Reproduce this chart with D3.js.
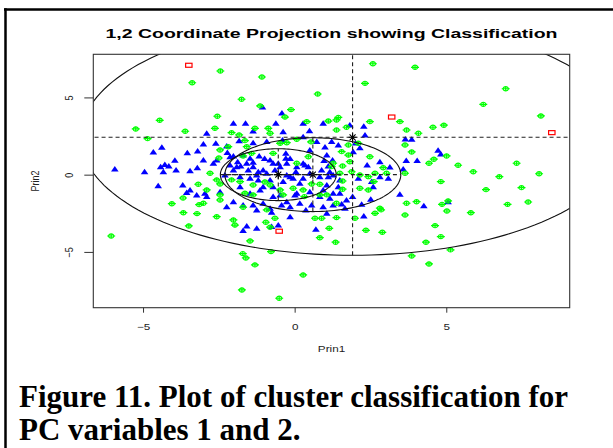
<!DOCTYPE html>
<html>
<head>
<meta charset="utf-8">
<script src="https://cdn.jsdelivr.net/npm/d3@7"></script>
<style>
  body { margin: 0; background: #fff; }
  svg { display: block; }
</style>
</head>
<body>
<svg id="chart" width="613" height="448"></svg>
<script>
// Principal-component scores (Prin1, Prin2) per cluster
const cluster1 = [ // blue triangles
  [-1.06,4.38],[-0.42,3.99],[-4.38,1.77],[-4.66,1.47],[-3.54,1.42],[-3.20,1.53],[-3.95,0.93],[-4.28,0.65],
  [-4.15,0.56],[-4.42,0.52],[-3.91,0.30],[-5.93,0.37],[-4.95,0.19],[-3.45,0.26],[-3.21,0.45],[4.73,1.58],
  [4.82,1.34],[4.26,-2.01],[5.06,-1.75],[-4.33,0.19],[-4.50,-0.71],[-3.69,-0.67],[-3.45,-0.99],[-3.56,-1.16],
  [-3.23,-1.31],[-1.70,-3.62],[-2.02,3.33],[-1.62,3.33],[-0.62,3.33],[-2.90,2.68],[-1.37,2.83],[-0.38,2.78],
  [-3.01,1.99],[-2.60,2.03],[-2.24,1.86],[-1.83,2.20],[-1.37,2.07],[-0.92,2.14],[-0.40,2.25],[-3.01,0.95],
  [-2.57,0.95],[-2.02,1.21],[-1.70,1.27],[-1.47,1.06],[-1.17,1.21],[-0.81,0.95],[-0.29,1.38],[-0.29,1.06],
  [-2.68,0.74],[-2.13,0.63],[-1.91,0.52],[-1.58,0.74],[-1.37,0.52],[-1.04,0.30],[-0.71,0.74],[-0.48,0.52],
  [-0.26,0.74],[-2.30,-0.02],[-1.80,-0.13],[-1.47,-0.23],[-1.25,-0.02],[-0.92,0.09],[-0.81,-0.34],[-0.26,-0.02],
  [-0.38,-0.45],[-2.90,-1.42],[-2.46,-1.10],[-1.80,-0.78],[-1.47,-1.20],[-1.14,-0.99],[-0.71,-0.78],[-0.48,-1.31],
  [-2.96,-1.20],[-2.02,-1.75],[-1.70,-1.96],[-1.37,-1.96],[-1.04,-1.85],[-0.81,-2.17],[-0.43,-1.96],[-1.58,-3.32],
  [-1.25,-3.47],[-0.76,-3.36],[-0.15,-2.72],[0.28,3.33],[0.94,3.33],[1.82,3.22],[2.32,2.57],[0.28,2.46],
  [0.73,2.14],[1.22,2.14],[1.44,1.92],[1.06,1.27],[1.93,1.49],[2.39,0.63],[2.81,0.84],[0.07,0.52],
  [0.34,0.63],[0.89,0.30],[0.50,0.09],[-0.05,-0.23],[1.27,-0.02],[1.49,-0.34],[0.17,-0.56],[1.06,-0.67],
  [1.44,-0.78],[2.10,-0.23],[2.54,-0.45],[2.81,-0.13],[3.09,-0.23],[0.07,-1.20],[0.50,-1.10],[0.83,-1.42],
  [1.16,-1.53],[1.49,-1.20],[1.71,-1.64],[2.59,-0.78],[0.94,-2.07],[1.27,-1.96],[1.66,-2.17],[0.17,-1.85],
  [0.56,-1.96],[3.65,2.31],[3.86,2.29],[3.68,0.91],[4.04,0.91],[3.14,0.50],[3.58,0.37],[2.15,1.75],
  [3.47,-1.27],[2.28,-2.67],[2.51,-1.59],[2.21,-1.92],[1.06,-2.50],[0.70,-3.53],[0.49,2.85],[0.50,1.60],
  [1.00,1.79],[1.25,0.95],[-2.02,0.30],[-1.53,0.30],[-0.65,0.30],[-1.04,-0.78],[-0.71,-1.42],[-2.24,-2.07],
  [-1.25,-2.28],[-0.76,-2.43],[-0.26,-1.75],[-0.54,-3.26],[2.28,3.13],[2.01,2.05],[1.91,-1.42],[1.55,-1.90],
  [-2.22,1.44],[-2.13,1.16],[-1.88,0.84],[-1.78,0.56],[-0.99,1.04],[-1.37,0.80],[-0.54,0.74],[-0.15,1.04],
  [0.28,0.74],[0.45,0.52],[0.97,0.91],[1.11,0.56],[-1.20,0.19],[0.04,0.19],[1.16,0.19],[-1.20,-0.34],
  [-0.15,-0.13],[0.28,-0.23],[0.83,-0.13],[1.11,-0.13],[0.01,-1.31],[0.94,-0.99],[1.27,-1.20],[-0.15,-2.07],
  [0.37,-2.28]
];

const cluster2 = [ // green circled crosses
  [-2.45,6.71],[-1.08,6.32],[-3.38,5.95],[0.76,5.22],[-1.75,4.88],[-0.12,4.21],[-1.14,4.45],[-2.55,3.78],
  [-0.32,3.73],[-4.45,3.52],[1.44,3.71],[1.38,3.54],[-5.24,2.96],[-3.61,2.81],[-4.85,2.33],[2.58,7.18],
  [3.97,6.95],[2.32,5.91],[6.96,5.56],[6.22,4.55],[8.12,3.80],[4.56,3.07],[4.92,3.20],[5.01,1.21],
  [4.59,1.00],[4.43,0.74],[5.39,0.61],[5.89,0.19],[7.32,0.74],[8.06,0.06],[6.75,-0.13],[4.82,-0.45],
  [6.31,-0.97],[7.48,-0.84],[4.86,-1.92],[5.06,-1.70],[7.02,-1.92],[7.70,-1.77],[5.02,-2.35],[5.81,-2.46],
  [2.35,-3.60],[2.89,-3.73],[4.63,-3.30],[4.82,-4.01],[4.33,-4.37],[5.14,-4.87],[3.86,-5.26],[4.43,-5.78],
  [-3.18,-0.62],[-4.05,-1.88],[-3.68,-1.51],[-3.15,-1.94],[-3.67,-2.46],[-3.22,-2.52],[-3.49,-3.32],[-6.05,-3.97],
  [-1.47,-4.29],[-0.78,-4.98],[-1.71,-5.11],[-1.61,-5.39],[-1.31,-5.84],[0.28,-6.49],[-1.74,-7.46],[-0.51,-8.00],
  [0.83,-4.08],[1.35,-4.37],[-2.63,3.00],[-2.08,2.72],[-1.83,2.57],[-1.64,2.20],[-1.31,3.00],[-0.87,3.00],
  [-0.81,2.68],[-0.48,2.03],[-0.26,2.07],[-2.46,1.60],[-2.19,1.81],[-1.58,1.81],[-1.42,1.38],[-0.71,1.38],
  [-2.79,0.09],[-2.57,-0.34],[-1.80,-0.45],[-1.37,-0.67],[-0.48,-0.99],[-0.38,-1.31],[-2.90,-0.99],[-2.46,-1.31],
  [-2.46,-1.64],[-1.64,-1.20],[-1.37,-1.31],[-0.92,-2.28],[-0.65,-2.82],[-2.02,-2.93],[-1.97,-3.26],[-2.57,-2.72],
  [-3.01,-1.85],[-2.50,1.08],[-1.70,1.21],[-0.95,-3.08],[-0.81,-3.40],[-1.70,-2.11],[-2.08,-0.34],[-2.46,-0.60],
  [-0.98,-0.47],[-0.81,-0.67],[0.40,3.43],[1.11,3.47],[2.48,3.43],[3.47,3.43],[3.69,2.89],[4.08,2.68],
  [1.38,2.89],[3.64,1.92],[1.77,1.92],[2.10,2.03],[1.55,1.49],[1.77,1.27],[1.82,0.84],[1.27,0.74],
  [0.07,0.74],[0.45,1.16],[2.48,1.16],[2.15,-0.02],[2.43,-0.13],[2.65,0.09],[3.03,0.09],[3.64,0.09],
  [1.49,0.09],[-0.05,-0.88],[0.28,-0.99],[2.15,-0.88],[2.43,-0.99],[1.88,0.19],[0.83,-1.31],[1.06,-1.31],
  [3.69,-1.85],[4.02,-1.75],[0.67,-2.82],[0.89,-2.82],[1.99,-2.82],[2.81,-2.17],[2.65,-2.50],[3.64,-2.61],
  [1.71,3.07],[3.86,1.47],[2.92,0.45],[1.58,0.56],[1.58,-0.41],[1.58,-0.94],[2.61,-0.45],[2.85,-2.28],
  [0.56,-0.60],[0.83,-0.62],[1.38,-1.85],[1.38,-2.78],[1.14,-3.47],[0.32,-1.42],[0.54,2.12],[0.07,2.29],
  [1.22,0.52]
];

const cluster3 = [ // red open squares
  [-3.49,7.08],[3.20,3.73],[8.48,2.72],[-0.51,-3.66]
];

// Fitted component ellipses: centre, semi-axis along Prin1, semi-axis along Prin2
const ellipseCenters = [[1.91, 2.42], [0.60, 0.00], [-0.54, 0.00]];
const ellipseAxes = [[8.97, 7.64], [2.90, 2.39], [1.91, 1.68]];

const xTicks = [-5, 0, 5];
const yTicks = [-5, 0, 5];
const xDomain = [-6.64, 9.07];
const yDomain = [-8.61, 7.79];

const titleText = "1,2 Coordinate Projection showing Classification";
const xLabel = "Prin1";
const yLabel = "Prin2";
const captionLines = ["Figure 11. Plot of cluster classification for", "PC variables 1 and 2."];

// ---------------------------------------------------------------
const svg = d3.select("#chart");
const box = { left: 93.3, right: 569.7, top: 54.3, bottom: 307.7 };
const stretch = 1.3; // glyphs of the plot panel are drawn wide

const x = d3.scaleLinear().domain(xDomain).range([box.left, box.right]);
const y = d3.scaleLinear().domain(yDomain).range([box.bottom, box.top]);

// page frame
svg.append("line").attr("x1", 4).attr("x2", 613).attr("y1", 9.5).attr("y2", 9.5)
  .attr("stroke", "#000").attr("stroke-width", 2.5);
svg.append("line").attr("x1", 5.5).attr("x2", 5.5).attr("y1", 8.3).attr("y2", 448)
  .attr("stroke", "#000").attr("stroke-width", 2.5);

// title
svg.append("text")
  .attr("x", (box.left + box.right) / 2).attr("y", 37.5)
  .attr("text-anchor", "middle")
  .attr("font-family", "Liberation Sans, Arial, sans-serif")
  .attr("font-weight", "bold").attr("font-size", 12)
  .attr("textLength", 452).attr("lengthAdjust", "spacingAndGlyphs")
  .text(titleText);

svg.append("defs").append("clipPath").attr("id", "plotClip")
  .append("rect").attr("x", box.left).attr("y", box.top)
  .attr("width", box.right - box.left).attr("height", box.bottom - box.top);

const panel = svg.append("g").attr("clip-path", "url(#plotClip)");

// points: blue first, then green, then red
const tri = "M-3.8,2.5L3.8,2.5L0,-3Z";
panel.append("g").selectAll("path").data(cluster1).join("path")
  .attr("d", tri)
  .attr("transform", d => `translate(${x(d[0])},${y(d[1])})`)
  .attr("fill", "#0000ff");

const g2 = panel.append("g").selectAll("g").data(cluster2).join("g")
  .attr("transform", d => `translate(${x(d[0])},${y(d[1])})`)
  .attr("stroke", "#00ff00").attr("fill", "none").attr("stroke-width", 1.2);
g2.append("ellipse").attr("rx", 2.6).attr("ry", 2.1);
g2.append("path").attr("d", "M-4,0H4M0,-2.1V2.1");

panel.append("g").selectAll("rect").data(cluster3).join("rect")
  .attr("x", d => x(d[0]) - 3.2).attr("y", d => y(d[1]) - 2)
  .attr("width", 6.4).attr("height", 4)
  .attr("fill", "none").attr("stroke", "#ff0000").attr("stroke-width", 1.2);

// ellipses with their axes and centre marks
const ellipseLine = d3.line().x(p => x(p[0])).y(p => y(p[1]));
ellipseCenters.forEach((c, i) => {
  const [a, b] = ellipseAxes[i];
  const pts = d3.range(0, 361, 2).map(t => {
    const r = t * Math.PI / 180;
    return [c[0] + a * Math.cos(r), c[1] + b * Math.sin(r)];
  });
  panel.append("path").attr("d", ellipseLine(pts))
    .attr("fill", "none").attr("stroke", "#111").attr("stroke-width", 1.1);
  panel.append("line")
    .attr("x1", x(c[0] - a)).attr("x2", x(c[0] + a))
    .attr("y1", y(c[1])).attr("y2", y(c[1]))
    .attr("stroke", "#222").attr("stroke-width", 1.1).attr("stroke-dasharray", "4,3");
  panel.append("line")
    .attr("x1", x(c[0])).attr("x2", x(c[0]))
    .attr("y1", y(c[1] - b)).attr("y2", y(c[1] + b))
    .attr("stroke", "#222").attr("stroke-width", 1.1).attr("stroke-dasharray", "4,3");
  panel.append("path")
    .attr("transform", `translate(${x(c[0])},${y(c[1])})`)
    .attr("d", "M-4,0H4M0,-4V4M-3,-3L3,3M-3,3L3,-3")
    .attr("stroke", "#000").attr("stroke-width", 1.1);
});

// plot box
svg.append("rect").attr("x", box.left).attr("y", box.top)
  .attr("width", box.right - box.left).attr("height", box.bottom - box.top)
  .attr("fill", "none").attr("stroke", "#333").attr("stroke-width", 1.1);

const labelFont = "Liberation Sans, Arial, sans-serif";

// x axis
const xAxis = svg.append("g").attr("transform", `translate(0,${box.bottom})`)
  .call(d3.axisBottom(x).tickValues(xTicks).tickSize(5).tickFormat(d3.format("d")));
xAxis.select(".domain").remove();
xAxis.selectAll(".tick line").attr("stroke", "#333");
xAxis.selectAll(".tick text")
  .attr("font-family", labelFont).attr("font-size", 9).attr("fill", "#222")
  .attr("y", 0).attr("dy", 0)
  .attr("transform", `translate(0,22) scale(${stretch},1)`);

// y axis
const yAxis = svg.append("g").attr("transform", `translate(${box.left},0)`)
  .call(d3.axisLeft(y).tickValues(yTicks).tickSize(9).tickFormat(d3.format("d")));
yAxis.select(".domain").remove();
yAxis.selectAll(".tick line").attr("stroke", "#333");
yAxis.selectAll(".tick text")
  .attr("font-family", labelFont).attr("font-size", 9).attr("fill", "#222")
  .attr("x", 0).attr("dy", 0).attr("text-anchor", "middle")
  .attr("transform", `translate(-20.5,0) scale(${stretch},1) rotate(-90)`);

// axis titles
svg.append("text")
  .attr("transform", `translate(${(box.left + box.right) / 2},352) scale(${stretch},1)`)
  .attr("text-anchor", "middle").attr("font-family", labelFont).attr("font-size", 9)
  .attr("fill", "#222").text(xLabel);
svg.append("text")
  .attr("transform", `translate(38.5,${(box.top + box.bottom) / 2}) scale(${stretch},1) rotate(-90)`)
  .attr("text-anchor", "middle").attr("font-family", labelFont).attr("font-size", 9)
  .attr("fill", "#222").text(yLabel);

// caption
svg.append("g").selectAll("text").data(captionLines).join("text")
  .attr("x", 19).attr("y", (d, i) => 407 + i * 33)
  .attr("font-family", "Liberation Serif, Times New Roman, serif")
  .attr("font-weight", "bold").attr("font-size", 31)
  .attr("fill", "#000")
  .text(d => d);
</script>
</body>
</html>
